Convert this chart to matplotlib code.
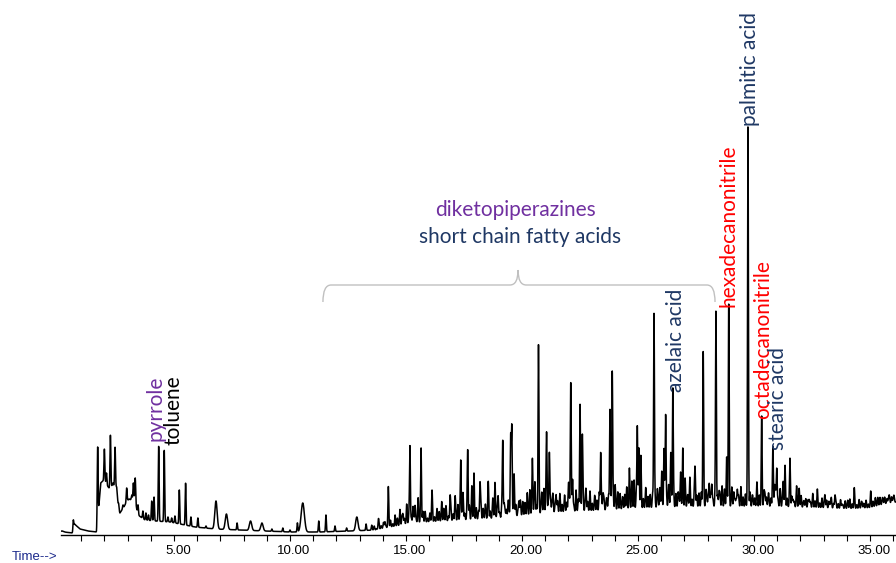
import numpy as np
import matplotlib.pyplot as plt
from matplotlib.path import Path
from matplotlib.patches import PathPatch
from matplotlib.ticker import MultipleLocator, FixedLocator
from matplotlib.transforms import ScaledTranslation

# baseline of the trace (retention time in min, abundance)
base_t = [0.13, 0.26, 0.63, 0.71, 0.95, 1.29, 1.66, 1.75, 1.84, 1.98, 2.10, 2.20, 2.36, 2.53,
          2.60, 2.67, 2.84, 3.00, 3.30, 3.45, 3.75, 4.18, 4.83, 5.26, 5.91, 6.77, 7.84, 8.92,
          10.0, 11.29, 12.59, 13.66, 14.09, 14.66, 15.17, 16.03, 16.90, 17.76, 18.62, 19.48,
          20.34, 21.21, 22.07, 23.36, 24.66, 25.95, 27.67, 29.40, 31.12, 32.84, 34.14, 35.0,
          35.65, 36.12]
base_h = [3, 3, 2, 11, 6, 4, 3, 25, 52, 55, 50, 47, 50, 48,
          26, 22, 28, 35, 36, 20, 15, 14, 13, 11, 8, 6, 5, 4,
          3, 3, 4, 5, 7, 9, 12, 13, 14, 15, 16, 18,
          20, 22, 23, 24, 26, 27, 28, 28, 28, 27, 26, 27,
          31, 33]

# peaks: apex time, apex abundance
peak_t = [0.17, 0.66, 1.71, 1.90, 2.00, 2.09, 2.26, 2.37, 2.46, 2.61, 2.80, 2.96, 3.07, 3.18,
          3.25, 3.33, 3.45, 3.66, 3.79, 3.90, 4.04, 4.14, 4.34, 4.58, 4.74, 4.90, 5.04, 5.23,
          5.50, 5.73, 6.03, 6.38, 6.81, 7.26, 7.72, 8.30, 8.79, 9.22, 9.69, 10.0, 10.32, 10.55,
          11.24, 11.55, 11.94, 12.44, 12.88, 13.28, 13.52, 13.81, 14.09, 14.24, 14.53, 14.74,
          14.87, 15.03, 15.17, 15.30, 15.39, 15.52, 15.65, 15.82, 16.12, 16.34, 16.54, 16.72,
          16.90, 17.11, 17.24, 17.36, 17.46, 17.66, 17.84, 17.93, 18.19, 18.32, 18.41, 18.55,
          18.75, 18.84, 18.97, 19.17, 19.27, 19.40, 19.51, 19.56, 19.66, 19.87, 20.04, 20.22,
          20.34, 20.45, 20.56, 20.71, 20.86, 20.95, 21.06, 21.18, 21.29, 21.47, 21.64, 21.85,
          22.0, 22.10, 22.18, 22.33, 22.5, 22.6, 22.76, 22.93, 23.15, 23.39, 23.49, 23.66,
          23.79, 23.89, 24.01, 24.22, 24.35, 24.51, 24.63, 24.74, 24.83, 24.97, 25.04, 25.12,
          25.34, 25.52, 25.69, 25.86, 25.95, 26.02, 26.12, 26.19, 26.31, 26.41, 26.50, 26.64,
          26.77, 26.84, 26.93, 27.03, 27.16, 27.24, 27.46, 27.63, 27.81, 27.97, 28.07, 28.18,
          28.36, 28.49, 28.62, 28.82, 28.91, 29.05, 29.18, 29.28, 29.44, 29.74, 29.96, 30.12,
          30.33, 30.47, 30.60, 30.81, 30.89, 30.98, 31.12, 31.26, 31.34, 31.55, 31.68, 31.84,
          31.95, 32.16, 32.38, 32.54, 32.73, 33.06, 33.28, 33.49, 33.79, 34.05, 34.32, 34.66,
          35.03, 35.34, 35.56, 35.79, 35.99]
peak_h = [4, 15, 88, 37, 86, 62, 100, 52, 88, 32, 30, 47, 36, 40,
          52, 57, 30, 24, 22, 20, 34, 38, 89, 85, 18, 17, 19, 45,
          52, 18, 17, 9, 34, 21, 12, 14, 12, 6, 7, 5, 12, 32,
          14, 20, 9, 7, 18, 11, 8, 13, 13, 45, 15, 22,
          20, 28, 88, 26, 29, 30, 84, 18, 34, 20, 28, 22,
          36, 29, 25, 72, 38, 82, 42, 56, 51, 20, 22, 45,
          30, 37, 38, 93, 24, 30, 90, 104, 58, 33, 24, 25,
          38, 70, 48, 180, 38, 42, 98, 82, 30, 39, 26, 28,
          45, 149, 55, 30, 128, 95, 42, 28, 27, 81, 40, 33,
          124, 162, 45, 30, 30, 42, 50, 42, 44, 107, 80, 67,
          30, 32, 220, 35, 42, 52, 72, 119, 40, 75, 141, 33,
          35, 53, 74, 40, 35, 45, 63, 32, 178, 35, 50, 50,
          219, 42, 40, 70, 223, 40, 35, 45, 35, 403, 32, 40,
          112, 40, 32, 82, 48, 66, 35, 50, 57, 72, 35, 40,
          42, 32, 35, 31, 37, 38, 30, 39, 30, 30, 41, 30,
          37, 33, 34, 36, 35]
broad_t = [0.17, 6.81, 7.26, 8.30, 8.79, 10.55, 12.88]
broad_w = [0.06, 0.05, 0.05, 0.05, 0.05, 0.07, 0.05]

# small noise spikes above the baseline, one every 0.1 min from 13.5 min
grass_start = 13.5
grass_h = [2, 4, 1, 5, 3, 6, 2, 4, 7, 3, 5, 8, 4, 9, 6, 3, 10, 5, 7, 4,
           8, 5, 11, 6, 4, 9, 12, 5, 7, 10, 6, 13, 8, 5, 11, 7, 14, 6, 9, 12,
           7, 10, 15, 8, 6, 12, 9, 16, 7, 11, 13, 8, 10, 17, 9, 6, 12, 14, 8, 11,
           15, 9, 12, 7, 16, 10, 13, 18, 8, 11, 14, 9, 17, 12, 7, 15, 10, 13, 19, 9,
           12, 16, 8, 14, 10, 18, 11, 7, 15, 13, 9, 17, 12, 10, 16, 8, 14, 11, 19, 10,
           13, 9, 16, 11, 14, 8, 18, 12, 10, 15, 9, 17, 13, 11, 16, 8, 14, 10, 18, 12,
           9, 15, 11, 17, 8, 13, 16, 10, 14, 12, 18, 9, 15, 11, 13, 17, 10, 14, 8, 16,
           12, 10, 15, 9, 17, 11, 13, 8, 16, 12, 14, 10, 18, 9, 13, 11, 15, 8, 12, 14,
           10, 13, 8, 15, 11, 9, 14, 12, 7, 16, 10, 13, 9, 11, 15, 8, 12, 10, 14, 9,
           8, 11, 6, 10, 7, 12, 5, 9, 8, 6, 11, 7, 9, 5, 10, 6, 8, 7, 11, 5,
           7, 5, 9, 4, 8, 6, 10, 5, 7, 4, 9, 6, 5, 8, 4, 7, 6, 9, 5, 8, 6, 7, 5, 8, 6, 7]

t = np.arange(0.13, 36.13, 0.004)
y = np.interp(t, base_t, base_h)
for pt, ph in zip(peak_t, peak_h):
    w = 0.018
    if pt in broad_t:
        w = broad_w[broad_t.index(pt)]
    amp = max(ph - np.interp(pt, base_t, base_h), 0)
    y = y + amp * np.exp(-0.5 * ((t - pt) / w) ** 2)
for i, gh in enumerate(grass_h):
    gt = grass_start + 0.1 * i + 0.03
    y = y + gh * np.exp(-0.5 * ((t - gt) / 0.02) ** 2)

fig = plt.figure(figsize=(8.96, 5.63), dpi=100)
ax = fig.add_axes([61 / 896, 28 / 563, 835 / 896, 535 / 563])
ax.plot(t, y, color='black', lw=1.1)
ax.set_xlim(0.13, 36.12)
ax.set_ylim(0, 535)

for s in ['top', 'right', 'left']:
    ax.spines[s].set_visible(False)
ax.spines['bottom'].set_linewidth(1.0)
ax.set_yticks([])
major = [5, 10, 15, 20, 25, 30, 35]
ax.xaxis.set_major_locator(FixedLocator(major))
ax.xaxis.set_minor_locator(MultipleLocator(1))
ax.set_xticklabels(['%.2f' % v for v in major], fontfamily='Liberation Sans', fontsize=9.5)
ax.tick_params(axis='x', which='both', direction='out', length=4, width=0.8, pad=3)
for lab in ax.get_xticklabels():
    lab.set_transform(lab.get_transform() + ScaledTranslation(0.04, 0, fig.dpi_scale_trans))

fig.text(12 / 896, 1 - 557 / 563, 'Time-->', color='#1c2a8c', fontsize=9.5,
         fontfamily='Liberation Sans', va='center', ha='left')

# peak names
purple = '#7030a0'
navy = '#1f3864'
red = '#ff0000'
lab_font = 'Lato'
names = ['pyrrole', 'toluene', 'azelaic acid', 'hexadecanonitrile', 'palmitic acid',
         'octadecanonitrile', 'stearic acid']
name_t = [4.22, 4.96, 26.64, 28.92, 29.83, 30.39, 31.03]
name_y = [94, 90, 143, 228, 409, 116, 85]
name_c = [purple, 'black', navy, red, navy, red, navy]
for n, nt, ny, nc in zip(names, name_t, name_y, name_c):
    ax.text(nt, ny, n, rotation=90, ha='center', va='bottom', color=nc,
            fontsize=15, fontfamily=lab_font)

ax.text(19.74, 325, 'diketopiperazines', color=purple, fontsize=15, fontfamily=lab_font,
        ha='center', va='center')
ax.text(19.91, 298, 'short chain fatty acids', color=navy, fontsize=15, fontfamily=lab_font,
        ha='center', va='center')

# curly brace over the middle region
x0, xc, x1 = 11.42, 19.83, 28.32
y_tip, y_mid, y_top = 233, 250, 265
verts = [(x0, y_tip), (x0, y_mid), (x0 + 0.35, y_mid),
         (xc - 0.35, y_mid), (xc, y_mid), (xc, y_top),
         (xc, y_mid), (xc + 0.35, y_mid),
         (x1 - 0.35, y_mid), (x1, y_mid), (x1, y_tip)]
codes = [Path.MOVETO, Path.CURVE3, Path.CURVE3,
         Path.LINETO, Path.CURVE3, Path.CURVE3,
         Path.CURVE3, Path.CURVE3,
         Path.LINETO, Path.CURVE3, Path.CURVE3]
ax.add_patch(PathPatch(Path(verts, codes), facecolor='none', edgecolor='#c0c0c0', lw=1.0))

fig.savefig('out.png', dpi=100)
